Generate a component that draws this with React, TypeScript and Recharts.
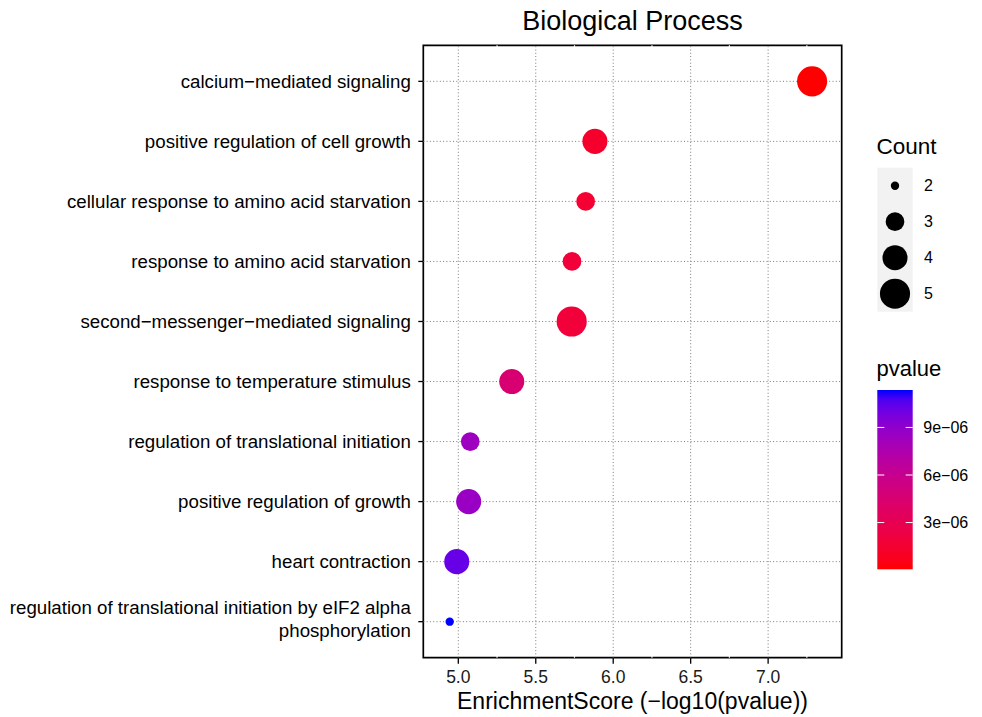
import React from "react";
import {
  ScatterChart,
  Scatter,
  XAxis,
  YAxis,
  ZAxis,
  Cell,
  ReferenceLine,
  ReferenceArea,
} from "recharts";

// ---------------- data ----------------
const categories: string[] = [
  "calcium\u2212mediated signaling",
  "positive regulation of cell growth",
  "cellular response to amino acid starvation",
  "response to amino acid starvation",
  "second\u2212messenger\u2212mediated signaling",
  "response to temperature stimulus",
  "regulation of translational initiation",
  "positive regulation of growth",
  "heart contraction",
  "regulation of translational initiation by eIF2 alpha\nphosphorylation",
];
const enrichmentScores: number[] = [7.284, 5.882, 5.822, 5.734, 5.732, 5.345, 5.077, 5.067, 4.99, 4.9445];
const counts: number[] = [5, 4, 3, 3, 5, 4, 3, 4, 4, 2];

const xTicks: number[] = [5, 5.5, 6, 6.5, 7];
const xMinorTicks: number[] = [5.25, 5.75, 6.25, 6.75, 7.25];
const countLevels: number[] = [2, 3, 4, 5];
const pTicks: number[] = [3e-6, 6e-6, 9e-6];
const pTickLabels: string[] = ["3e\u221206", "6e\u221206", "9e\u221206"];

// ---------------- styles / scales ----------------
const FONT = "'Liberation Sans', Arial, Helvetica, sans-serif";
const X_DOMAIN: [number, number] = [4.774, 7.475];
const Y_DOMAIN: [number, number] = [-0.6, 9.6];
const COUNT_DOMAIN: [number, number] = [2, 5];
const SIZE_RANGE: [number, number] = [55, 712];
const GRID = "#7a7a7a";

// CIELAB interpolation (like ggplot2 scale_colour_gradient)
function toLin(c: number) {
  c /= 255;
  return c <= 0.04045 ? c / 12.92 : Math.pow((c + 0.055) / 1.055, 2.4);
}
function fromLin(c: number) {
  const v = c <= 0.0031308 ? 12.92 * c : 1.055 * Math.pow(c, 1 / 2.4) - 0.055;
  return Math.round(Math.max(0, Math.min(1, v)) * 255);
}
const Xn = 0.95047, Yn = 1.0, Zn = 1.08883;
function rgbToLab([r8, g8, b8]: number[]) {
  const r = toLin(r8), g = toLin(g8), b = toLin(b8);
  const X = 0.4124564 * r + 0.3575761 * g + 0.1804375 * b;
  const Y = 0.2126729 * r + 0.7151522 * g + 0.072175 * b;
  const Z = 0.0193339 * r + 0.119192 * g + 0.9503041 * b;
  const f = (t: number) => (t > 0.008856 ? Math.cbrt(t) : 7.787 * t + 16 / 116);
  const fx = f(X / Xn), fy = f(Y / Yn), fz = f(Z / Zn);
  return [116 * fy - 16, 500 * (fx - fy), 200 * (fy - fz)];
}
function labToHex([L, a, bb]: number[]) {
  const fy = (L + 16) / 116;
  const fx = fy + a / 500;
  const fz = fy - bb / 200;
  const inv = (t: number) => (t * t * t > 0.008856 ? t * t * t : (t - 16 / 116) / 7.787);
  const X = Xn * inv(fx), Y = Yn * inv(fy), Z = Zn * inv(fz);
  const r = 3.2404542 * X - 1.5371385 * Y - 0.4985314 * Z;
  const g = -0.969266 * X + 1.8760108 * Y + 0.041556 * Z;
  const b = 0.0556434 * X - 0.2040259 * Y + 1.0572252 * Z;
  const h = (v: number) => fromLin(v).toString(16).padStart(2, "0");
  return "#" + h(r) + h(g) + h(b);
}
const LAB_LOW = rgbToLab([255, 0, 0]);
const LAB_HIGH = rgbToLab([0, 0, 255]);
function rampColor(t: number) {
  return labToHex(LAB_LOW.map((v, i) => v + (LAB_HIGH[i] - v) * t));
}

const pvalues = enrichmentScores.map((s) => Math.pow(10, -s));
const P_MIN = Math.min(...pvalues);
const P_MAX = Math.max(...pvalues);
const pColor = (p: number) => rampColor((p - P_MIN) / (P_MAX - P_MIN));
const sizeArea = (c: number) =>
  SIZE_RANGE[0] + ((SIZE_RANGE[1] - SIZE_RANGE[0]) * (c - COUNT_DOMAIN[0])) / (COUNT_DOMAIN[1] - COUNT_DOMAIN[0]);

const points = categories.map((name, i) => ({
  name,
  x: enrichmentScores[i],
  y: i,
  z: counts[i],
  p: pvalues[i],
}));

// ---------------- ticks ----------------
const Y_FONT = 18.7;
const YTick = (props: any) => {
  const { x, y, payload } = props;
  const label = categories[payload.value] ?? "";
  const lines = label.split("\n");
  if (lines.length === 1) {
    return (
      <text x={x} y={y + 6.5} textAnchor="end" fontSize={Y_FONT} fill="#000" fontFamily={FONT}>
        {label}
      </text>
    );
  }
  return (
    <text textAnchor="end" fontSize={Y_FONT} fill="#000" fontFamily={FONT}>
      <tspan x={x} y={y - 7.7}>{lines[0]}</tspan>
      <tspan x={x} y={y + 15}>{lines[1]}</tspan>
    </text>
  );
};

// ---------------- legends ----------------
const LEG_X = 877.3;
const LEG_W = 35.4;
const KEY_H = 36;
const KEY_TOP = 167.7;
const BAR_TOP = 390;
const BAR_BOTTOM = 569.3;

function Legends() {
  const stops = Array.from({ length: 21 }, (_, i) => i / 20);
  const barY = (p: number) => BAR_BOTTOM - ((p - P_MIN) / (P_MAX - P_MIN)) * (BAR_BOTTOM - BAR_TOP);
  return (
    <svg
      width={982}
      height={717}
      style={{ position: "absolute", left: 0, top: 0, pointerEvents: "none" }}
      fontFamily={FONT}
    >
      <defs>
        <linearGradient id="pgrad" x1="0" y1="0" x2="0" y2="1">
          {stops.map((o) => (
            <stop key={o} offset={o} stopColor={rampColor(1 - o)} />
          ))}
        </linearGradient>
      </defs>
      {/* title */}
      <text x={632.5} y={30} textAnchor="middle" fontSize={27} fill="#000">
        Biological Process
      </text>
      {/* x axis title */}
      <text x={632.5} y={709.3} textAnchor="middle" fontSize={23} fill="#000">
        {"EnrichmentScore (\u2212log10(pvalue))"}
      </text>

      {/* Count legend */}
      <text x={876.5} y={154} fontSize={22.5} fill="#000">
        Count
      </text>
      <rect x={LEG_X} y={KEY_TOP} width={LEG_W} height={KEY_H * countLevels.length} fill="#F2F2F2" />
      {countLevels.map((c, i) => {
        const cy = KEY_TOP + KEY_H * (i + 0.5);
        return (
          <g key={c}>
            <circle cx={LEG_X + LEG_W / 2} cy={cy} r={Math.sqrt(sizeArea(c) / Math.PI)} fill="#000" />
            <text x={924} y={cy + 5.7} fontSize={16} fill="#000">
              {c}
            </text>
          </g>
        );
      })}

      {/* pvalue legend */}
      <text x={876.5} y={376} fontSize={22} fill="#000">
        pvalue
      </text>
      <rect x={LEG_X} y={BAR_TOP} width={LEG_W} height={BAR_BOTTOM - BAR_TOP} fill="url(#pgrad)" />
      {pTicks.map((p, i) => {
        const y = barY(p);
        return (
          <g key={p}>
            <line x1={LEG_X} x2={LEG_X + 7} y1={y} y2={y} stroke="#fff" strokeWidth={1} />
            <line x1={LEG_X + LEG_W - 7} x2={LEG_X + LEG_W} y1={y} y2={y} stroke="#fff" strokeWidth={1} />
            <text x={923.3} y={y + 5.7} fontSize={16} fill="#000">
              {pTickLabels[i]}
            </text>
          </g>
        );
      })}
    </svg>
  );
}

export default function App() {
  return (
    <div
      style={{
        position: "absolute",
        left: 0,
        top: 0,
        width: 982,
        height: 717,
        background: "#fff",
        fontFamily: FONT,
      }}
    >
      <ScatterChart
        width={982}
        height={717}
        margin={{ top: 45.3, right: 140.3, bottom: 0, left: 0 }}
      >
        <XAxis
          type="number"
          dataKey="x"
          domain={X_DOMAIN}
          allowDataOverflow
          ticks={xTicks}
          interval={0}
          tickFormatter={(v: number) => v.toFixed(1)}
          tick={{ fontSize: 17.5, fill: "#1a1a1a", fontFamily: FONT }}
          tickLine={{ stroke: "#000", strokeWidth: 1.3 }}
          axisLine={false}
          tickSize={6}
          tickMargin={7}
          height={59.3}
        />
        <YAxis
          type="number"
          dataKey="y"
          domain={Y_DOMAIN}
          allowDataOverflow
          reversed
          ticks={categories.map((_, i) => i)}
          interval={0}
          width={423.3}
          tick={(p: any) => <YTick {...p} />}
          tickLine={{ stroke: "#000", strokeWidth: 1.3 }}
          axisLine={false}
          tickSize={5}
          tickMargin={7.5}
        />
        <ZAxis type="number" dataKey="z" domain={COUNT_DOMAIN} range={SIZE_RANGE} />
        <ReferenceArea
          x1={X_DOMAIN[0]}
          x2={X_DOMAIN[1]}
          y1={Y_DOMAIN[0]}
          y2={Y_DOMAIN[1]}
          fill="#fff"
          fillOpacity={1}
          stroke="#000"
          strokeWidth={1.7}
          ifOverflow="visible"
        />
        {xMinorTicks.map((v) => (
          <ReferenceLine key={"m" + v} x={v} stroke="#fff" strokeWidth={1.2} />
        ))}
        {xTicks.map((v) => (
          <ReferenceLine key={"x" + v} x={v} stroke={GRID} strokeWidth={1} strokeDasharray="1 2.3" />
        ))}
        {categories.map((_, i) => (
          <ReferenceLine key={"y" + i} y={i} stroke={GRID} strokeWidth={1} strokeDasharray="1 2.3" />
        ))}
        <Scatter data={points} isAnimationActive={false} shape="circle">
          {points.map((pt) => (
            <Cell key={pt.name} fill={pColor(pt.p)} />
          ))}
        </Scatter>
      </ScatterChart>
      <Legends />
    </div>
  );
}
